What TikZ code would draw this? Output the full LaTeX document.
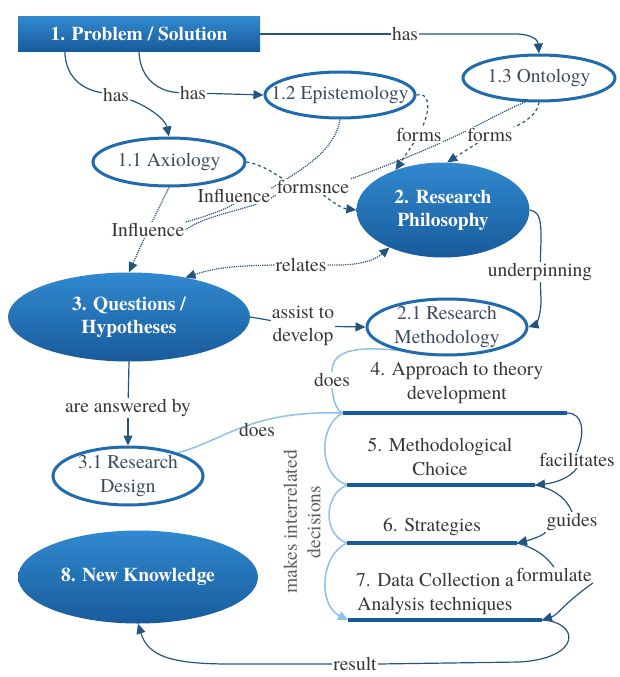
\documentclass[tikz,border=0pt]{standalone}
\usepackage{fontspec}
\setmainfont{texgyretermes}[Extension=.otf,UprightFont=*-regular,BoldFont=*-bold,ItalicFont=*-italic,BoldItalicFont=*-bolditalic]
\usetikzlibrary{shapes.geometric,arrows.meta,backgrounds}

\definecolor{mapblue}{HTML}{1F6BAE}
\definecolor{maphi}{HTML}{3189D0}
\definecolor{maplo}{HTML}{185B9B}
\definecolor{ringtxt}{HTML}{3C4B5E}
\definecolor{lbltxt}{HTML}{363636}
\definecolor{linkcol}{HTML}{24557F}
\definecolor{lightcol}{HTML}{8FC0E8}

\begin{document}
\begin{tikzpicture}[x=1pt,y=-1pt,font=\fontsize{19.5}{23.5}\selectfont,
  boxnode/.style={rectangle,top color=maphi,bottom color=maplo,text=white,
    font=\fontsize{19.5}{23.5}\selectfont\bfseries,minimum width=242pt,minimum height=35pt},
  ringnode/.style={ellipse,draw=mapblue,line width=3pt,fill=white,inner sep=0pt,
    label={[text=ringtxt,align=center]center:#1}},
  blobnode/.style={ellipse,top color=maphi,bottom color=maplo,inner sep=0pt,
    label={[text=white,align=center,font=\fontsize{19.5}{23}\selectfont\bfseries]center:#1}},
  stepnode/.style={text=lbltxt,align=center},
  lbl/.style={fill=white,inner sep=1pt,text=lbltxt},
  link/.style={draw=linkcol,line width=1.2pt},
  dashlink/.style={link,dashed},
  dotlink/.style={link,densely dotted},
  light/.style={draw=lightcol,line width=1.5pt},
  bar/.style={draw=maplo,line width=4pt},
  tip/.style={-{Triangle[length=10pt,width=9pt]}},
]
\useasboundingbox (0,0) rectangle (619,677);

% concepts
\node[boxnode] (prob) at (139,34) {1. Problem / Solution};
\node[ringnode={1.2 Epistemology},minimum width=150pt,minimum height=46pt] (epist) at (340,95) {};
\node[ringnode={1.3 Ontology},minimum width=152pt,minimum height=46pt] (onto) at (539,78) {};
\node[ringnode={1.1 Axiology},minimum width=152pt,minimum height=48pt] (axio) at (169,162) {};
\node[blobnode={2. Research\\Philosophy},minimum width=173pt,minimum height=95pt] (phil) at (443,210) {};
\node[blobnode={3. Questions /\\Hypotheses},minimum width=242pt,minimum height=89pt] (ques) at (129,317) {};
\node[ringnode={2.1 Research\\Methodology},minimum width=160pt,minimum height=56pt] (meth) at (447,327) {};
\node[ringnode={3.1 Research\\Design},minimum width=150pt,minimum height=58pt] (design) at (128,476) {};
\node[blobnode={8. New Knowledge},minimum width=240pt,minimum height=93pt] (know) at (138,577) {};

% steps
\node[stepnode] (appr) at (457,383) {4. Approach to theory\\development};
\node[stepnode] (choice) at (440,457) {5. Methodological\\Choice};
\node[stepnode] (strat) at (432,527) {6. Strategies};
\node[stepnode] (data) at (435,594) {7. Data Collection a\\Analysis techniques};
\node[stepnode,rotate=90,text=lbltxt!80] (deci) at (302,522) {makes interrelated\\decisions};

\coordinate (b4l) at (343,413); \coordinate (b4r) at (567,413);
\coordinate (b5l) at (347,485); \coordinate (b5r) at (535,485);
\coordinate (b6l) at (347,543); \coordinate (b6r) at (517,543);
\coordinate (b7l) at (348,620); \coordinate (b7r) at (542,620);
\draw[bar] (b4l) -- (b4r);
\draw[bar] (b5l) -- (b5r);
\draw[bar] (b6l) -- (b6r);
\draw[bar] (b7l) -- (b7r);

% link labels
\node[lbl] (hasO) at (405,34) {has};
\node[lbl] (hasA) at (116,95) {has};
\node[lbl] (hasE) at (193,93) {has};
\node[lbl] (formsE) at (419,135) {forms};
\node[lbl] (formsO) at (490,135) {forms};
\node[lbl] (formsA) at (313,187) {formsnce};
\node[lbl] (inflE) at (234,196) {Influence};
\node[lbl] (inflA) at (148,230) {Influence};
\node[lbl] (rel) at (301,265) {relates};
\node[lbl] (under) at (540,272) {underpinning};
\node[lbl,align=center] (assist) at (303,326) {assist to\\develop};
\node[lbl] (ans) at (128,408) {are answered by};
\node[lbl] (does1) at (332,380) {does};
\node[lbl,fill=none] (does2) at (257,430) {does};
\node[lbl] (facil) at (577,460) {facilitates};
\node[lbl] (guides) at (572,522) {guides};
\node[lbl,fill=none] (formu) at (554,575) {formulate};
\node[lbl] (res) at (355,664) {result};

\begin{scope}[on background layer]
\draw[link] (prob.east) -- (hasO);
\draw[link,tip] (hasO) -- (515,34) .. controls (532,34) and (538,40) .. (onto.north);
\draw[link] ([xshift=47pt]prob.south west) .. controls (66,80) and (85,90) .. (hasA);
\draw[link,tip] (hasA) .. controls (145,105) and (165,118) .. (axio.north);
\draw[link] (prob.south) .. controls (140,80) and (160,92) .. (hasE);
\draw[link,tip] (hasE) -- (epist.west);

\draw[dashlink] (epist.east) .. controls (428,92) and (432,105) .. (formsE);
\draw[dashlink,tip] (formsE) -- (phil.140);
\draw[dashlink] (onto.south) .. controls (538,115) and (520,125) .. (formsO);
\draw[dashlink,tip] (formsO) -- (phil.85);
\draw[dashlink] (axio.east) .. controls (265,165) and (280,178) .. (formsA);
\draw[dashlink,tip] (formsA) .. controls (330,200) and (340,208) .. (phil.west);

\draw[dotlink] (onto.240) .. controls (482,120) and (468,136) .. (formsA.north east);
\draw[dotlink] (epist.south) .. controls (335,150) and (305,168) .. (inflE.north east);
\draw[dotlink] (formsA.south west) .. controls (260,208) and (205,214) .. (inflA.east);
\draw[dotlink] (inflE.south) .. controls (220,212) and (200,218) .. (inflA.north east);
\draw[dotlink] (axio.south) -- (inflA);
\draw[dotlink,tip] (inflA) -- (ques.north);

\draw[dotlink,tip] (rel.west) .. controls (230,266) and (215,268) .. (ques.35);
\draw[dotlink,tip] (rel.east) .. controls (360,266) and (375,260) .. (phil.215);

\draw[link] (phil.east) .. controls (540,212) and (541,220) .. (541,240) -- (under);
\draw[link,tip] (under) -- (541,300) .. controls (541,318) and (535,325) .. (meth.east);
\draw[link] (ques.east) -- (assist);
\draw[link,tip] (assist) -- (meth.west);
\draw[link] (ques.south) -- (ans);
\draw[link,tip] (ans) -- (design.north);

\draw[light] (meth.205) .. controls (345,345) and (332,355) .. (does1.north);
\draw[light] (does1.south) .. controls (333,400) and (336,410) .. (b4l);
\draw[light] (design.25) .. controls (225,440) and (250,410) .. (b4l);
\draw[light] (b4l) .. controls (318,425) and (318,475) .. (b5l);
\draw[light] (b5l) .. controls (323,495) and (323,535) .. (b6l);
\draw[light,tip] (b6l) .. controls (320,555) and (318,605) .. (b7l);

\draw[link] (b4r) .. controls (582,413) and (586,430) .. (facil.north);
\draw[link,tip] (facil.south) .. controls (570,478) and (555,483) .. (b5r);
\draw[link] (b5r) .. controls (550,488) and (565,495) .. (guides.north);
\draw[link,tip] (guides.south west) .. controls (545,535) and (530,540) .. (b6r);
\draw[link] (b6r) .. controls (535,548) and (545,555) .. (formu.north);
\draw[link,tip] (formu.south east) .. controls (562,605) and (558,615) .. (b7r);

\draw[link] (b7r) .. controls (580,622) and (582,658) .. (520,662) -- (res.east);
\draw[link,tip] (res.west) -- (230,664) .. controls (170,664) and (148,656) .. (know.south);
\end{scope}
\end{tikzpicture}
\end{document}
